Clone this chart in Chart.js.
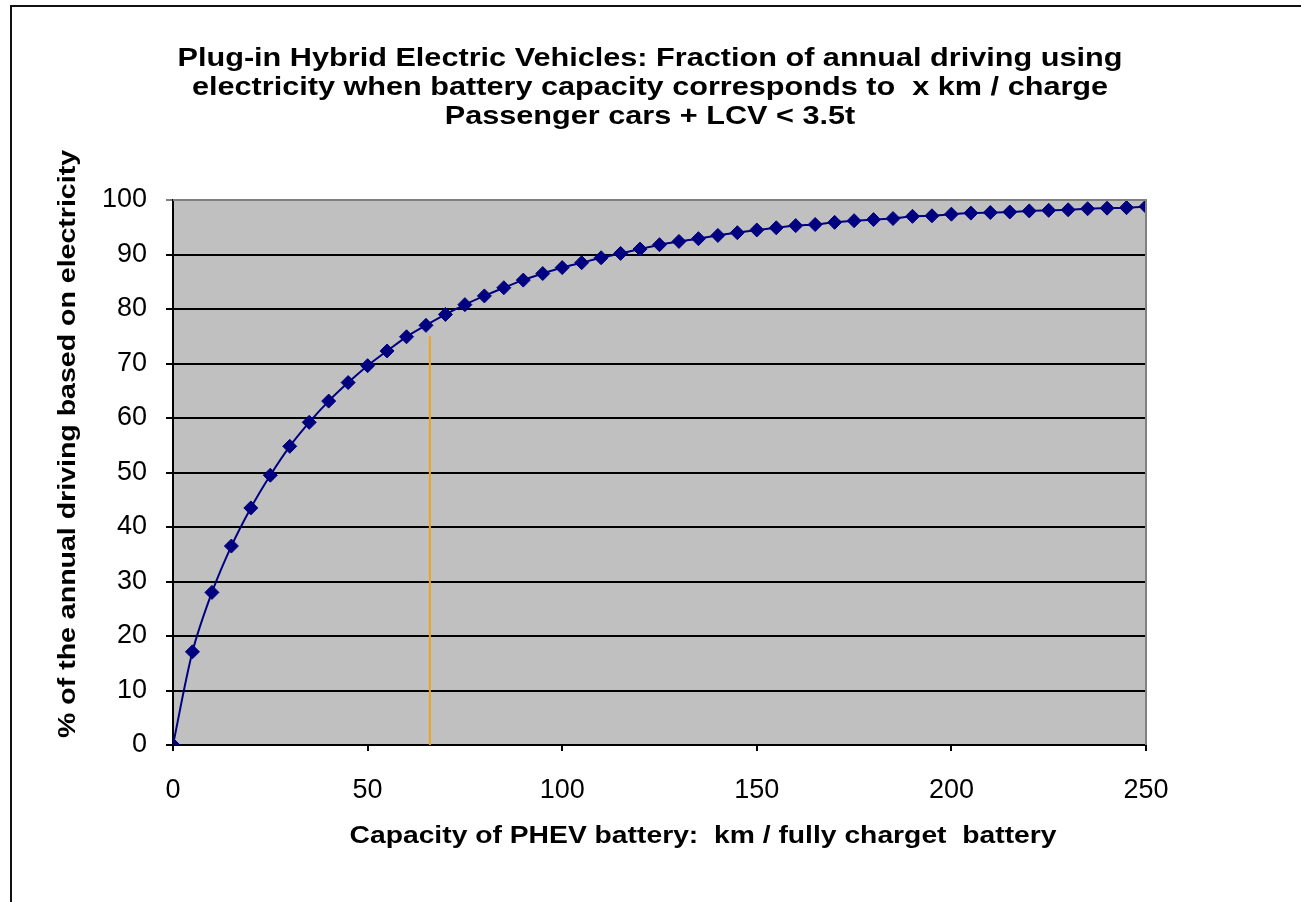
<!DOCTYPE html>
<html>
<head>
<meta charset="utf-8">
<title>PHEV electric driving fraction</title>
<script src="https://cdn.jsdelivr.net/npm/chart.js@4"></script>
<style>
  html, body { margin: 0; padding: 0; background: #fff; }
  #wrap { width: 1301px; height: 902px; }
</style>
</head>
<body>
<div id="wrap"><canvas id="phevChart" width="1301" height="902"></canvas></div>
<script>
// battery range, km per full charge
const capacityKm = [0, 5, 10, 15, 20, 25, 30, 35, 40, 45, 50, 55, 60, 65, 70, 75, 80, 85, 90, 95,
    100, 105, 110, 115, 120, 125, 130, 135, 140, 145, 150, 155, 160, 165, 170, 175, 180, 185, 190, 195,
    200, 205, 210, 215, 220, 225, 230, 235, 240, 245, 250];
// % of annual driving done on electricity
const electricShare = [0, 17.1, 28.0, 36.5, 43.5, 49.5, 54.8, 59.2, 63.1, 66.5, 69.6, 72.3, 74.9, 77.0, 79.0, 80.8, 82.4, 83.9, 85.3, 86.5,
    87.6, 88.5, 89.4, 90.2, 91.0, 91.8, 92.4, 92.9, 93.5, 94.0, 94.5, 94.9, 95.3, 95.5, 95.9, 96.2, 96.4, 96.6, 97.0, 97.1,
    97.4, 97.6, 97.7, 97.8, 98.0, 98.1, 98.2, 98.4, 98.5, 98.6, 98.8];
// orange marker line
const markerX = [66, 66];
const markerY = [0, 75];

const xTicks = [0, 50, 100, 150, 200, 250];
const yTicks = [0, 10, 20, 30, 40, 50, 60, 70, 80, 90, 100];

const titleLines = [
    "Plug-in Hybrid Electric Vehicles: Fraction of annual driving using",
    "electricity when battery capacity corresponds to  x km / charge",
    "Passenger cars + LCV < 3.5t"
];
const xTitle = "Capacity of PHEV battery:  km / fully charget  battery";
const yTitle = "% of the annual driving based on electricity";

const FONT = "'Liberation Sans', Arial, sans-serif";

// the original text is wider than Liberation Sans at the same height, so stretch it
function wideText(ctx, text, x, y, sx) {
    ctx.save();
    ctx.translate(x, y);
    ctx.scale(sx, 1);
    ctx.fillText(text, 0, 0);
    ctx.restore();
}

// grey plot background, grey top/right border, page frame and titles
const decor = {
    id: "decor",
    beforeDraw(chart) {
        const { ctx, chartArea: a } = chart;
        ctx.save();
        ctx.fillStyle = "#c0c0c0";
        ctx.fillRect(a.left, a.top, a.right - a.left, a.bottom - a.top);
        ctx.restore();
    },
    afterDraw(chart) {
        const { ctx, chartArea: a } = chart;
        ctx.save();
        ctx.strokeStyle = "#808080";
        ctx.lineWidth = 2;
        ctx.beginPath();
        ctx.moveTo(a.left, a.top);
        ctx.lineTo(a.right, a.top);
        ctx.lineTo(a.right, a.bottom);
        ctx.stroke();

        ctx.strokeStyle = "#111";
        ctx.lineWidth = 2;
        ctx.strokeRect(11, 6, 1320, 920);

        ctx.fillStyle = "#000";
        ctx.textAlign = "center";
        ctx.textBaseline = "middle";
        ctx.font = "bold 25px " + FONT;
        const sTitle = 945 / ctx.measureText(titleLines[0]).width;
        titleLines.forEach((t, i) => wideText(ctx, t, 650, 59 + i * 29, sTitle));

        ctx.font = "bold 24px " + FONT;
        const sx = 707 / ctx.measureText(xTitle).width;
        wideText(ctx, xTitle, a.left + 530, a.bottom + 91, sx);

        const sy = 588 / ctx.measureText(yTitle).width;
        ctx.translate(68, a.top + 244);
        ctx.rotate(-Math.PI / 2);
        wideText(ctx, yTitle, 0, 0, sy);
        ctx.restore();
    }
};

const ctx = document.getElementById("phevChart").getContext("2d");

new Chart(ctx, {
    type: "line",
    data: {
        datasets: [{
            label: "share",
            data: capacityKm.map((km, i) => ({ x: km, y: electricShare[i] })),
            borderColor: "#000080",
            backgroundColor: "#000080",
            borderWidth: 2,
            pointStyle: "rectRot",
            pointRadius: 7,
            pointBorderWidth: 1,
            tension: 0.3,
            order: 1
        }, {
            label: "marker",
            data: markerX.map((km, i) => ({ x: km, y: markerY[i] })),
            borderColor: "#f0a020",
            borderWidth: 2,
            pointRadius: 0,
            order: 2
        }]
    },
    options: {
        responsive: false,
        animation: false,
        events: [],
        layout: { padding: { left: 0, top: 200, right: 155, bottom: 0 } },
        plugins: {
            legend: { display: false },
            title: { display: false },
            tooltip: { enabled: false }
        },
        scales: {
            x: {
                type: "linear",
                min: 0,
                max: 250,
                afterFit: (s) => { s.height = 157; },
                afterBuildTicks: (s) => { s.ticks = xTicks.map(v => ({ value: v })); },
                ticks: {
                    color: "#000",
                    padding: 23,
                    maxRotation: 0,
                    font: { family: FONT, size: 27 }
                },
                grid: {
                    drawOnChartArea: false,
                    drawTicks: true,
                    tickLength: 6,
                    color: "#000",
                    lineWidth: 2
                },
                border: { display: true, color: "#000", width: 2 }
            },
            y: {
                min: 0,
                max: 100,
                afterFit: (s) => { s.width = 173; },
                afterBuildTicks: (s) => { s.ticks = yTicks.map(v => ({ value: v })); },
                ticks: {
                    color: "#000",
                    padding: 19,
                    font: { family: FONT, size: 27 }
                },
                grid: {
                    drawTicks: true,
                    tickLength: 7,
                    color: (c) => c.tick && c.tick.value === 100 ? "#808080" : "#000",
                    lineWidth: 2
                },
                border: { display: true, color: "#000", width: 2 }
            }
        }
    },
    plugins: [decor]
});
</script>
</body>
</html>
